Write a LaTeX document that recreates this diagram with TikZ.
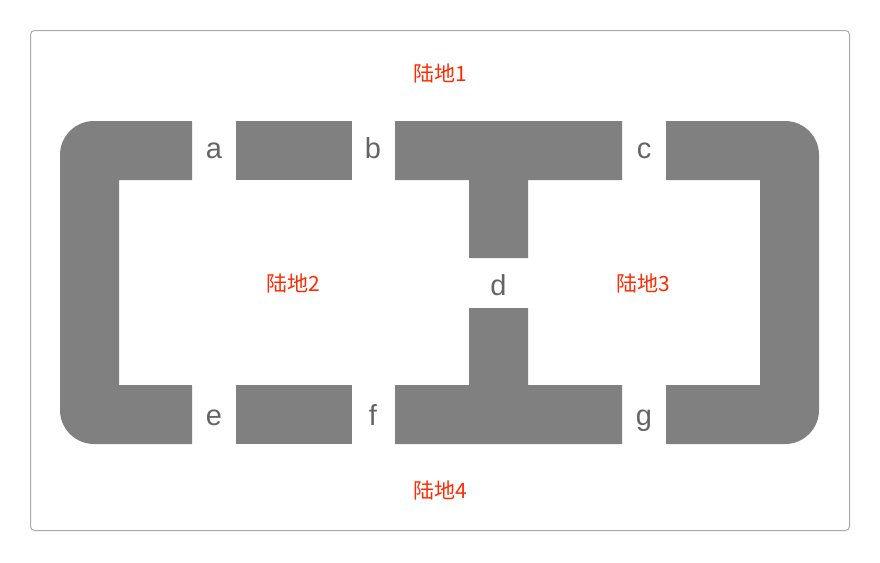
\documentclass[tikz,border=0pt]{standalone}
\usepackage{fontspec}
\setmainfont{Liberation Sans}
\newfontfamily\cjk{Noto Sans CJK SC}
\definecolor{landfill}{HTML}{808080}
\definecolor{lettergray}{HTML}{646464}
\definecolor{landred}{HTML}{FF2A00}
\definecolor{framegray}{HTML}{AAAAAA}
\tikzset{
  land/.style={fill=landfill},
  bridgelabel/.style={text=lettergray, font=\fontsize{29}{32}\selectfont, inner sep=0pt, anchor=base},
  landlabel/.style={text=landred, font=\cjk\fontsize{21}{24}\selectfont, inner sep=0pt}
}
\begin{document}
\begin{tikzpicture}[x=1pt,y=-1pt]
\useasboundingbox (0,0) rectangle (880,562);
% frame
\draw[framegray, line width=1pt, rounded corners=4pt] (30.5,30.5) rectangle (849.5,530.5);
% left bracket
\fill[land] (192,121) -- (94,121) .. controls (75.2,121) and (60,136.2) .. (60,155)
  -- (60,410) .. controls (60,428.8) and (75.2,444) .. (94,444)
  -- (192,444) -- (192,385) -- (119,385) -- (119,180) -- (192,180) -- cycle;
% right bracket
\fill[land] (666,121) -- (785,121) .. controls (803.8,121) and (819,136.2) .. (819,155)
  -- (819,410) .. controls (819,428.8) and (803.8,444) .. (785,444)
  -- (666,444) -- (666,385) -- (760,385) -- (760,180) -- (666,180) -- cycle;
% middle rectangles
\fill[land] (236,121) rectangle (352,180);
\fill[land] (236,385) rectangle (352,444);
% top T
\fill[land] (395,121) -- (622,121) -- (622,180) -- (528,180) -- (528,258)
  -- (469,258) -- (469,180) -- (395,180) -- cycle;
% bottom T
\fill[land] (395,444) -- (622,444) -- (622,385) -- (528,385) -- (528,308)
  -- (469,308) -- (469,385) -- (395,385) -- cycle;
% bridge labels
\node[bridgelabel] (a) at (214,158) {a};
\node[bridgelabel] (b) at (373,158) {b};
\node[bridgelabel] (c) at (644,158) {c};
\node[bridgelabel] (d) at (498.5,295) {d};
\node[bridgelabel] (e) at (214,425) {e};
\node[bridgelabel] (f) at (373,425) {f};
\node[bridgelabel] (g) at (644,425) {g};
% land labels
\node[landlabel] (l1) at (440,73) {陆地1};
\node[landlabel] (l2) at (293,283) {陆地2};
\node[landlabel] (l3) at (643,283) {陆地3};
\node[landlabel] (l4) at (440,490) {陆地4};
\end{tikzpicture}
\end{document}
